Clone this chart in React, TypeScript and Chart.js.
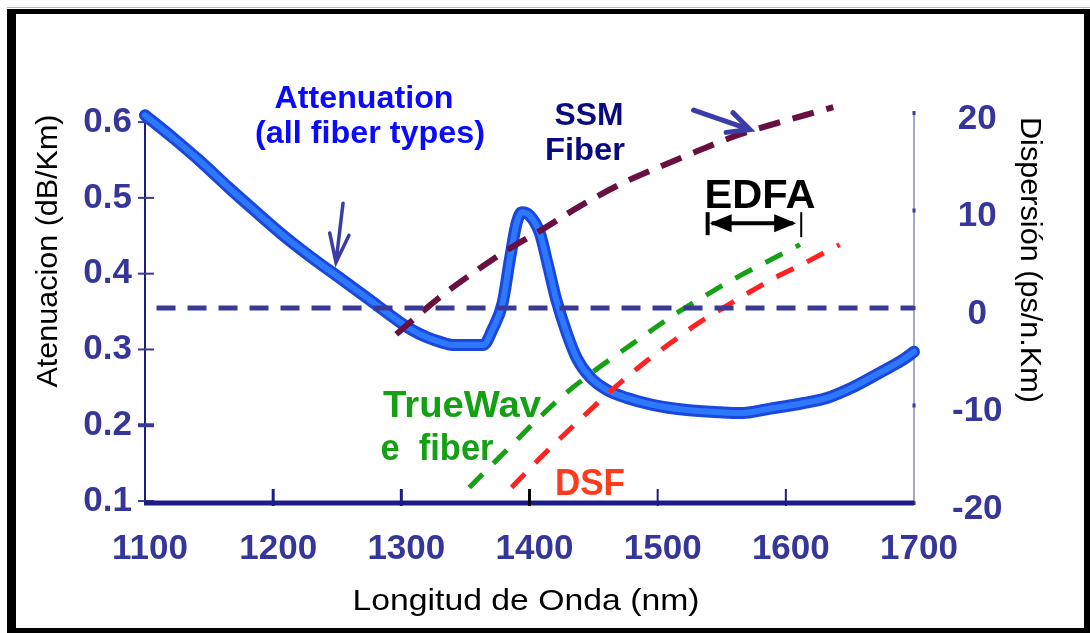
import React, { useEffect, useRef } from 'react';
import { Chart, registerables } from 'chart.js';

Chart.register(...registerables);

// ---------- data ----------
const X_TICKS = [1100, 1200, 1300, 1400, 1500, 1600, 1700];
const ATT_TICKS = [0.1, 0.2, 0.3, 0.4, 0.5, 0.6];
const DISP_TICKS = [-20, -10, 0, 10, 20];

// Attenuation (dB/km), all fibre types
const attWavelength = [1100, 1122, 1144, 1165, 1187, 1209, 1231, 1253, 1274, 1294, 1307, 1320, 1332, 1340, 1364, 1371, 1379, 1385, 1390, 1394, 1400, 1408, 1414, 1421, 1429, 1437, 1447, 1460, 1476, 1496, 1523, 1549, 1564, 1588, 1613, 1632, 1652, 1673, 1691, 1700];
const attValue = [0.609, 0.579, 0.547, 0.514, 0.481, 0.449, 0.42, 0.393, 0.367, 0.342, 0.327, 0.316, 0.309, 0.306, 0.306, 0.326, 0.361, 0.422, 0.467, 0.481, 0.477, 0.454, 0.414, 0.365, 0.322, 0.288, 0.264, 0.247, 0.236, 0.227, 0.22, 0.217, 0.216, 0.222, 0.229, 0.236, 0.25, 0.269, 0.286, 0.297];

// Dispersion (ps/nm.km)
const ssmWavelength = [1296, 1330, 1356, 1382, 1413, 1440, 1471, 1502, 1531, 1564, 1594, 1629, 1637];
const ssmValue = [-2.7, 1.1, 3.6, 5.9, 8.3, 10.5, 12.7, 14.5, 16.1, 17.8, 19.0, 20.3, 20.6];

const trueWaveWavelength = [1353, 1385, 1408, 1426, 1449, 1468, 1481, 1494, 1507, 1520, 1535, 1549, 1564, 1580, 1595, 1611];
const trueWaveValue = [-18.4, -14.2, -11.2, -9.0, -6.6, -4.8, -3.6, -2.4, -1.2, -0.1, 1.1, 2.2, 3.3, 4.4, 5.4, 6.5];

const dsfWavelength = [1386, 1412, 1439, 1461, 1486, 1512, 1530, 1551, 1570, 1590, 1613, 1642];
const dsfValue = [-18.4, -14.9, -11.5, -8.8, -6.0, -3.4, -1.7, 0.0, 1.5, 3.0, 4.5, 6.5];

const zeroWavelength = [1109, 1700];
const zeroValue = [0, 0];

// EDFA band (nm) and the dispersion level where its arrow sits
const EDFA_BAND = [1539, 1612];
const EDFA_LEVEL = 8.7;

// annotation arrows in data units: [x1, y1, x2, y2]
const ATT_ARROW = [1254.5, 0.493, 1249, 0.415];
const SSM_ARROW = [1528, 20.3, 1572, 18.3];

// ---------- styles ----------
const F = "'Liberation Sans', Arial, Helvetica, sans-serif";
const TICK_COLOR = '#36369a';
const AXIS_NAVY = '#1c1c86';

const pts = (xs: number[], ys: number[]) => xs.map((x, i) => ({ x, y: ys[i] }));

function fitText(ctx: CanvasRenderingContext2D, text: string, cx: number, base: number, font: string, width: number, color: string, rot = 0) {
  ctx.save();
  ctx.font = font;
  const w = ctx.measureText(text).width;
  ctx.translate(cx, base);
  if (rot) ctx.rotate(rot);
  ctx.scale(width / w, 1);
  ctx.fillStyle = color;
  ctx.textAlign = 'center';
  ctx.textBaseline = 'alphabetic';
  ctx.fillText(text, 0, 0);
  ctx.restore();
}

function openArrow(ctx: CanvasRenderingContext2D, x1: number, y1: number, x2: number, y2: number, color: string, lw: number, head: number, spread: number) {
  const a = Math.atan2(y2 - y1, x2 - x1);
  ctx.save();
  ctx.strokeStyle = color;
  ctx.lineWidth = lw;
  ctx.lineCap = 'round';
  ctx.beginPath();
  ctx.moveTo(x1, y1);
  ctx.lineTo(x2, y2);
  ctx.moveTo(x2 - head * Math.cos(a - spread), y2 - head * Math.sin(a - spread));
  ctx.lineTo(x2, y2);
  ctx.lineTo(x2 - head * Math.cos(a + spread), y2 - head * Math.sin(a + spread));
  ctx.stroke();
  ctx.restore();
}

const decorPlugin = {
  id: 'decor',
  beforeDatasetsDraw(chart: any) {
    const ctx: CanvasRenderingContext2D = chart.ctx;
    const { x, yL, yR } = chart.scales;
    const area = chart.chartArea;
    ctx.save();
    // left axis
    ctx.strokeStyle = AXIS_NAVY;
    ctx.lineWidth = 2;
    ctx.beginPath();
    ctx.moveTo(area.left, yL.getPixelForValue(0.6));
    ctx.lineTo(area.left, area.bottom);
    ctx.stroke();
    ATT_TICKS.forEach((v) => {
      const y = yL.getPixelForValue(v);
      ctx.lineWidth = v === 0.2 ? 4 : 2;
      ctx.strokeStyle = '#3a3a96';
      ctx.beginPath();
      ctx.moveTo(area.left - 7, y);
      ctx.lineTo(area.left + 9, y);
      ctx.stroke();
    });
    // right axis
    ctx.strokeStyle = '#8a8aac';
    ctx.lineWidth = 1.5;
    ctx.beginPath();
    ctx.moveTo(area.right, area.top);
    ctx.lineTo(area.right, area.bottom);
    ctx.stroke();
    ctx.fillStyle = '#3a3a96';
    DISP_TICKS.forEach((v) => {
      const y = yR.getPixelForValue(v);
      ctx.fillRect(area.right - 1.5, y - 2, 3, 4);
    });
    // bottom axis
    ctx.strokeStyle = AXIS_NAVY;
    ctx.lineWidth = 5;
    ctx.beginPath();
    ctx.moveTo(area.left - 1, area.bottom);
    ctx.lineTo(area.right, area.bottom);
    ctx.stroke();
    X_TICKS.slice(1, -1).forEach((v) => {
      const px = x.getPixelForValue(v);
      ctx.strokeStyle = v === 1400 ? '#000' : AXIS_NAVY;
      ctx.lineWidth = v >= 1500 ? 2 : 3;
      ctx.beginPath();
      ctx.moveTo(px, area.bottom - 14);
      ctx.lineTo(px, area.bottom + 3);
      ctx.stroke();
    });
    ctx.restore();
  },
  afterDatasetsDraw(chart: any) {
    const ctx: CanvasRenderingContext2D = chart.ctx;
    const { x, yL, yR } = chart.scales;
    // arrows
    openArrow(ctx, x.getPixelForValue(ATT_ARROW[0]), yL.getPixelForValue(ATT_ARROW[1]), x.getPixelForValue(ATT_ARROW[2]), yL.getPixelForValue(ATT_ARROW[3]), '#3c3ca8', 3.5, 30, 0.33);
    openArrow(ctx, x.getPixelForValue(SSM_ARROW[0]), yR.getPixelForValue(SSM_ARROW[1]), x.getPixelForValue(SSM_ARROW[2]), yR.getPixelForValue(SSM_ARROW[3]), '#3c3ca8', 5, 24, 0.45);

    // EDFA double arrow
    const ex1 = x.getPixelForValue(EDFA_BAND[0]);
    const ex2 = x.getPixelForValue(EDFA_BAND[1]);
    const ey = yR.getPixelForValue(EDFA_LEVEL);
    ctx.save();
    ctx.fillStyle = '#000';
    ctx.strokeStyle = '#000';
    ctx.lineWidth = 4;
    ctx.beginPath();
    ctx.moveTo(ex1, ey - 11);
    ctx.lineTo(ex1, ey + 12);
    ctx.stroke();
    ctx.beginPath();
    ctx.moveTo(ex1 + 4, ey);
    ctx.lineTo(ex2 - 8, ey);
    ctx.stroke();
    ctx.beginPath();
    ctx.moveTo(ex1 + 2, ey);
    ctx.lineTo(ex1 + 24, ey - 9);
    ctx.lineTo(ex1 + 24, ey + 9);
    ctx.closePath();
    ctx.fill();
    ctx.beginPath();
    ctx.moveTo(ex2 - 5, ey);
    ctx.lineTo(ex2 - 27, ey - 9);
    ctx.lineTo(ex2 - 27, ey + 9);
    ctx.closePath();
    ctx.fill();
    ctx.lineWidth = 2;
    ctx.beginPath();
    ctx.moveTo(ex2, ey - 11);
    ctx.lineTo(ex2, ey + 14);
    ctx.stroke();
    ctx.restore();
  },
  afterDraw(chart: any) {
    const ctx: CanvasRenderingContext2D = chart.ctx;
    // annotation texts
    fitText(ctx, 'Attenuation', 364, 108, `bold 32px ${F}`, 179, '#0a0aff');
    fitText(ctx, '(all fiber types)', 370, 143, `bold 32px ${F}`, 230, '#0a0aff');
    fitText(ctx, 'SSM', 589, 125, `bold 32px ${F}`, 69, '#0a0a80');
    fitText(ctx, 'Fiber', 585, 160, `bold 32px ${F}`, 80, '#0a0a80');
    fitText(ctx, 'EDFA', 760, 208, `bold 40px ${F}`, 111, '#000');
    fitText(ctx, 'TrueWav', 462, 417, `bold 37px ${F}`, 158, '#14a014');
    fitText(ctx, 'e  fiber', 437, 460, `bold 37px ${F}`, 113, '#14a014');
    fitText(ctx, 'DSF', 590, 495, `bold 37px ${F}`, 70, '#ff3b1e');
    // axis titles
    fitText(ctx, 'Atenuacion (dB/Km)', 57, 251, `30px ${F}`, 273, '#000', -Math.PI / 2);
    fitText(ctx, 'Dispersión (ps/n.Km)', 1021, 260, `30px ${F}`, 286, '#000', Math.PI / 2);
    fitText(ctx, 'Longitud de Onda (nm)', 526, 610, `30px ${F}`, 347, '#000');
    // frame
    ctx.save();
    ctx.fillStyle = '#000';
    ctx.fillRect(7, 9, 9, 624);
    ctx.fillRect(7, 9, 1083, 5);
    ctx.fillRect(7, 628, 1083, 5);
    ctx.fillRect(1084, 9, 6, 624);
    ctx.fillStyle = '#bbbbbb';
    ctx.fillRect(7, 7, 1083, 1);
    ctx.restore();
  },
};

export default function App() {
  const ref = useRef<HTMLCanvasElement>(null);
  useEffect(() => {
    document.body.style.margin = '0';
    const tickFont = { family: F, size: 35, weight: 'bold' as const };
    const chart = new Chart(ref.current as HTMLCanvasElement, {
      type: 'line',
      data: {
        datasets: [
          { data: pts(zeroWavelength, zeroValue), yAxisID: 'yR', borderColor: '#3a3a96', borderWidth: 5, borderDash: [19, 12], pointRadius: 0, clip: false } as any,
          { data: pts(ssmWavelength, ssmValue), yAxisID: 'yR', borderColor: '#6a1040', borderWidth: 6, borderDash: [22, 13], pointRadius: 0, cubicInterpolationMode: 'monotone', clip: false },
          { data: pts(trueWaveWavelength, trueWaveValue), yAxisID: 'yR', borderColor: '#16a016', borderWidth: 5, borderDash: [19, 15], pointRadius: 0, cubicInterpolationMode: 'monotone', clip: false },
          { data: pts(dsfWavelength, dsfValue), yAxisID: 'yR', borderColor: '#ff2222', borderWidth: 5, borderDash: [19, 15], pointRadius: 0, cubicInterpolationMode: 'monotone', clip: false },
          { data: pts(attWavelength, attValue), yAxisID: 'yL', borderColor: '#2e78ff', borderWidth: 6, pointRadius: 0, cubicInterpolationMode: 'monotone', borderCapStyle: 'round', borderJoinStyle: 'round', clip: false },
          { data: pts(attWavelength, attValue), yAxisID: 'yL', borderColor: '#1a48dc', borderWidth: 12, pointRadius: 0, cubicInterpolationMode: 'monotone', borderCapStyle: 'round', borderJoinStyle: 'round', clip: false },
        ],
      },
      options: {
        animation: false,
        responsive: false,
        events: [],
        layout: { padding: { top: 113, left: 0, right: 0, bottom: 0 } },
        plugins: { legend: { display: false }, tooltip: { enabled: false }, title: { display: false } },
        scales: {
          x: {
            type: 'linear', position: 'bottom', min: 1100, max: 1700,
            afterBuildTicks: (s: any) => { s.ticks = X_TICKS.map((value) => ({ value })); },
            afterFit: (s: any) => { s.height = 130; },
            grid: { display: false, drawTicks: false }, border: { display: false },
            ticks: { font: tickFont, color: TICK_COLOR, padding: 25, labelOffset: 5, maxRotation: 0, autoSkip: false, callback: (v: any) => String(v) },
          },
          yL: {
            type: 'linear', position: 'left', min: 0.0974, max: 0.612,
            afterBuildTicks: (s: any) => { s.ticks = ATT_TICKS.map((value) => ({ value })); },
            afterFit: (s: any) => { s.width = 145; },
            grid: { display: false, drawTicks: false }, border: { display: false },
            ticks: { font: tickFont, color: TICK_COLOR, padding: 13, autoSkip: false, callback: (v: any) => Number(v).toFixed(1) },
          },
          yR: {
            type: 'linear', position: 'right', min: -20, max: 20,
            afterBuildTicks: (s: any) => { s.ticks = DISP_TICKS.map((value) => ({ value })); },
            afterFit: (s: any) => { s.width = 176; },
            grid: { display: false, drawTicks: false }, border: { display: false },
            ticks: { font: tickFont, color: TICK_COLOR, padding: 38, labelOffset: 6, crossAlign: 'center', autoSkip: false, callback: (v: any) => String(v) },
          },
        },
      } as any,
      plugins: [decorPlugin],
    });
    return () => chart.destroy();
  }, []);
  return (
    <div style={{ position: 'relative', width: 1090, height: 633, background: '#fff', overflow: 'hidden' }}>
      <canvas ref={ref} width={1090} height={633} style={{ display: 'block', width: 1090, height: 633 }} />
    </div>
  );
}
